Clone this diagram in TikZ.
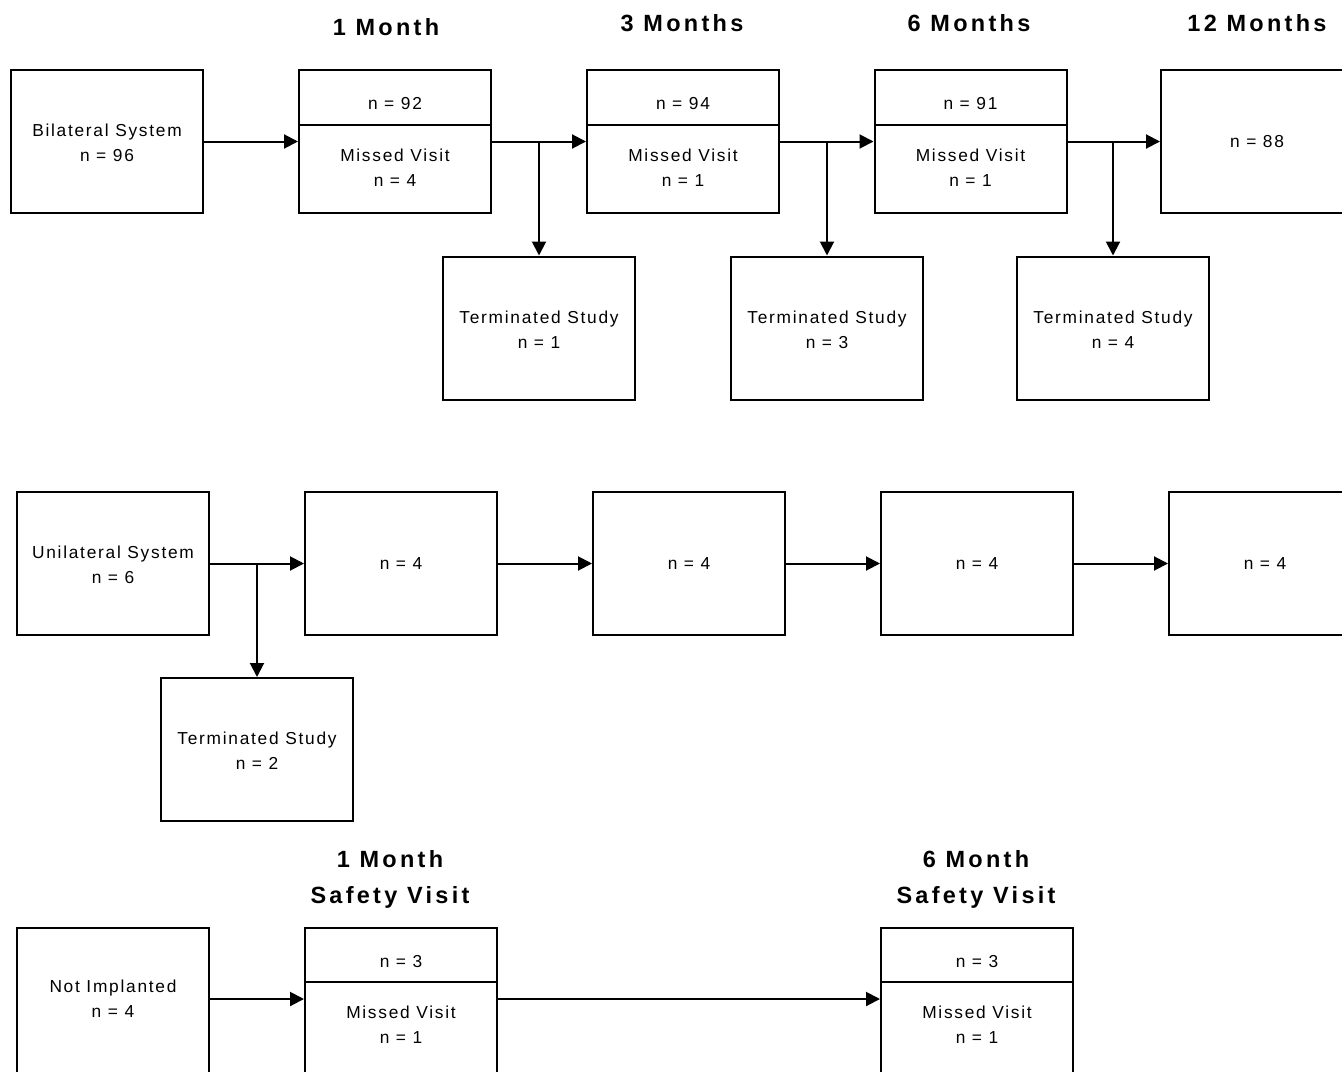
\documentclass[tikz,border=0pt]{standalone}
\usepackage{fontspec}
\setmainfont{Liberation Sans}[LetterSpace=10]
\newfontfamily\hdrfont{Liberation Sans}[LetterSpace=14]
\usetikzlibrary{arrows.meta}
\begin{document}
\begin{tikzpicture}[x=0.75pt,y=-0.75pt,
  box/.style={draw, line width=1.5pt, minimum width=144pt, minimum height=107.25pt, inner sep=0pt, align=center, font=\fontsize{13}{19}\selectfont},
  txt/.style={inner sep=0pt, align=center, font=\fontsize{13}{18.5}\selectfont},
  hdr/.style={inner sep=0pt, align=center, font=\hdrfont\fontsize{17.6}{27}\selectfont\bfseries},
  arr/.style={line width=1.5pt, -{Triangle[length=10.5pt,width=10.5pt]}},
  dv/.style={line width=1.5pt}]
\useasboundingbox (0,0) rectangle (1342,1071);
\clip (0,0) rectangle (1342,1071);
% headers
\node[hdr] (h1) at (386,27) {1 Month};
\node[hdr] (h3) at (682,23) {3 Months};
\node[hdr] (h6) at (969,23) {6 Months};
\node[hdr] (h12) at (1257,23) {12 Months};
% row 1
\node[box] (bil) at (107,141.5) {};
\node[txt] (bilt) at (107,143) {Bilateral System\\n = 96};
\node[box] (b1) at (395,141.5) {};
\node[box] (b2) at (683,141.5) {};
\node[box] (b3) at (970.5,141.5) {};
\node[box] (b4) at (1257,141.5) {n = 88};
\draw[dv] (b1.west |- 0,125) -- (b1.east |- 0,125);
\draw[dv] (b2.west |- 0,125) -- (b2.east |- 0,125);
\draw[dv] (b3.west |- 0,125) -- (b3.east |- 0,125);
\node[txt] (b1a) at (395,104) {n = 92};
\node[txt] (b1b) at (395,168) {Missed Visit\\n = 4};
\node[txt] (b2a) at (683,104) {n = 94};
\node[txt] (b2b) at (683,168) {Missed Visit\\n = 1};
\node[txt] (b3a) at (970.5,104) {n = 91};
\node[txt] (b3b) at (970.5,168) {Missed Visit\\n = 1};
\node[box] (t1) at (539,328) {};
\node[box] (t2) at (827,328) {};
\node[box] (t3) at (1113,328) {};
\node[txt] (t1t) at (539,329.5) {Terminated Study\\n = 1};
\node[txt] (t2t) at (827,329.5) {Terminated Study\\n = 3};
\node[txt] (t3t) at (1113,329.5) {Terminated Study\\n = 4};
\draw[arr] (bil.east) -- (b1.west);
\draw[arr] (b1.east) -- (b2.west);
\draw[arr] (b2.east) -- (b3.west);
\draw[arr] (b3.east) -- (b4.west);
\draw[arr] (t1.north |- b1.east) -- (t1.north);
\draw[arr] (t2.north |- b2.east) -- (t2.north);
\draw[arr] (t3.north |- b3.east) -- (t3.north);
% row 2
\node[box] (uni) at (113,563.5) {};
\node[txt] (unit) at (113,565) {Unilateral System\\n = 6};
\node[box] (u1) at (401,563.5) {n = 4};
\node[box] (u2) at (689,563.5) {n = 4};
\node[box] (u3) at (977,563.5) {n = 4};
\node[box] (u4) at (1265,563.5) {n = 4};
\node[box] (ut) at (257,749.5) {};
\node[txt] (utt) at (257,751) {Terminated Study\\n = 2};
\draw[arr] (uni.east) -- (u1.west);
\draw[arr] (u1.east) -- (u2.west);
\draw[arr] (u2.east) -- (u3.west);
\draw[arr] (u3.east) -- (u4.west);
\draw[arr] (ut.north |- uni.east) -- (ut.north);
% row 3
\node[hdr] (s1h) at (390,879) {1 Month\\Safety Visit};
\node[hdr] (s6h) at (976,879) {6 Month\\Safety Visit};
\node[box, minimum height=112.5pt] (ni) at (113,1003) {};
\node[txt] (nit) at (113,999) {Not Implanted\\n = 4};
\node[box, minimum height=112.5pt] (s1) at (401,1003) {};
\node[box, minimum height=112.5pt] (s6) at (977,1003) {};
\draw[dv] (s1.west |- 0,982) -- (s1.east |- 0,982);
\draw[dv] (s6.west |- 0,982) -- (s6.east |- 0,982);
\node[txt] (s1a) at (401,962) {n = 3};
\node[txt] (s1b) at (401,1025) {Missed Visit\\n = 1};
\node[txt] (s6a) at (977,962) {n = 3};
\node[txt] (s6b) at (977,1025) {Missed Visit\\n = 1};
\coordinate (nie) at (ni.east |- 0,999);
\coordinate (s1w) at (s1.west |- 0,999);
\coordinate (s1e) at (s1.east |- 0,999);
\coordinate (s6w) at (s6.west |- 0,999);
\draw[arr] (nie) -- (s1w);
\draw[arr] (s1e) -- (s6w);
\end{tikzpicture}
\end{document}
